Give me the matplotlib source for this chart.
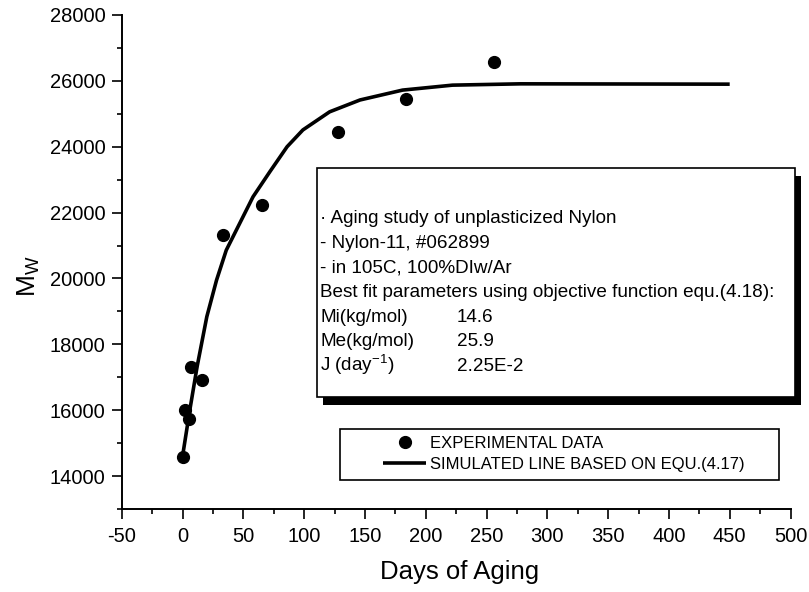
import matplotlib
matplotlib.use('Agg')
import matplotlib.pyplot as plt
from matplotlib.patches import Rectangle

plt.rcParams['font.family'] = ['Liberation Sans', 'DejaVu Sans']
plt.rcParams['mathtext.fontset'] = 'custom'
plt.rcParams['mathtext.rm'] = 'Liberation Sans'
plt.rcParams['mathtext.it'] = 'Liberation Sans:italic'
plt.rcParams['mathtext.default'] = 'regular'
plt.rcParams['axes.unicode_minus'] = False

# ---- data ----
days = [0, 2, 5, 7, 16, 33, 65, 128, 184, 256]
mw = [14570, 16000, 15720, 17320, 16920, 21320, 22230, 24460, 25440, 26580]

sim_days = [0, 6, 12, 20, 28, 36, 47, 58, 72, 86, 99, 121, 146, 181, 222, 278, 450]
sim_mw = [14590, 16000, 17320, 18840, 19950, 20860, 21670, 22480, 23250, 24000,
          24510, 25060, 25420, 25720, 25870, 25910, 25900]

x_ticks = list(range(-50, 501, 50))
y_ticks = list(range(14000, 28001, 2000))

label_exp = 'EXPERIMENTAL DATA'
label_sim = 'SIMULATED LINE BASED ON EQU.(4.17)'

box_lines = ['\u00b7 Aging study of unplasticized Nylon',
             '- Nylon-11, #062899',
             '- in 105C, 100%DIw/Ar',
             'Best fit parameters using objective function equ.(4.18):']
param_names = ['Mi(kg/mol)', 'Me(kg/mol)', 'J (day$^{-1}$)']
param_values = ['14.6', '25.9', '2.25E-2']

# ---- figure ----
W, H = 809, 592
fig = plt.figure(figsize=(W / 100, H / 100), dpi=100)
fig.patch.set_facecolor('white')


def fx(px):
    return px / W


def fy(py):
    return 1 - py / H


ax_l, ax_r, ax_t, ax_b = 121.7, 790.5, 15, 509
ax = fig.add_axes([fx(ax_l), fy(ax_b), (ax_r - ax_l) / W, (ax_b - ax_t) / H])

line_sim, = ax.plot(sim_days, sim_mw, color='black', lw=2.6, solid_capstyle='butt',
                    solid_joinstyle='round', zorder=2, label=label_sim)
pts, = ax.plot(days, mw, linestyle='none', marker='o', ms=8.5, color='black',
               zorder=3, label=label_exp)

ax.set_xlim(-50, 500)
ax.set_ylim(13000, 28000)
ax.set_xticks(x_ticks)
ax.set_yticks(y_ticks)
ax.set_xticks([t + 25 for t in x_ticks[:-1]], minor=True)
ax.set_yticks([t - 1000 for t in y_ticks], minor=True)

for s in ['top', 'right']:
    ax.spines[s].set_visible(False)
for s in ['left', 'bottom']:
    ax.spines[s].set_linewidth(1.4)

ax.tick_params(axis='both', which='major', direction='out', length=7.2, width=1.2,
               labelsize=14.5)
ax.tick_params(axis='both', which='minor', direction='out', length=3.6, width=1.2)
ax.tick_params(axis='x', which='major', pad=6)
ax.tick_params(axis='y', which='major', pad=4.5)

# axis titles
fig.text(fx(460), fy(572), 'Days of Aging', fontsize=18.5, ha='center', va='center')
fig.text(fx(29), fy(276), 'M$_{W}$', fontsize=19, rotation=90, ha='center', va='center')

# ---- parameter text box with shadow ----
bl, bt, br, bb = 317, 168, 795, 397
shadow = Rectangle((fx(bl + 6), fy(bb + 8)), (br - bl) / W, (bb - bt) / H,
                   transform=fig.transFigure, facecolor='black', edgecolor='black',
                   lw=0, zorder=5, clip_on=False)
box = Rectangle((fx(bl), fy(bb)), (br - bl) / W, (bb - bt) / H,
                transform=fig.transFigure, facecolor='white', edgecolor='black',
                lw=1.2, zorder=6, clip_on=False)
ax.add_artist(shadow)
ax.add_artist(box)

baselines = [223, 248, 272.5, 297, 321.5, 346, 371]
tb_size = 13.6
for i, txt in enumerate(box_lines):
    ax.text(fx(320), fy(baselines[i]), txt, fontsize=tb_size, ha='left', va='baseline',
            transform=fig.transFigure, zorder=7)
for j, (nm, val) in enumerate(zip(param_names, param_values)):
    ax.text(fx(320), fy(baselines[4 + j]), nm, fontsize=tb_size, ha='left',
            va='baseline', transform=fig.transFigure, zorder=7)
    ax.text(fx(457), fy(baselines[4 + j]), val, fontsize=tb_size, ha='left',
            va='baseline', transform=fig.transFigure, zorder=7)

# ---- legend ----
lframe = Rectangle((fx(340), fy(480)), (779 - 340) / W, (480 - 429) / H,
                   transform=fig.transFigure, facecolor='white', edgecolor='black',
                   lw=1.2, zorder=4, clip_on=False)
ax.add_artist(lframe)
leg = ax.legend(handles=[pts, line_sim], loc='upper left',
                bbox_to_anchor=(fx(383), fy(436)), bbox_transform=fig.transFigure,
                frameon=False, fontsize=12, handlelength=2.6, handletextpad=0.2,
                borderpad=0, borderaxespad=0, labelspacing=0.35, numpoints=1)
leg.set_zorder(8)

fig.savefig('out.png', dpi=100, facecolor='white')
